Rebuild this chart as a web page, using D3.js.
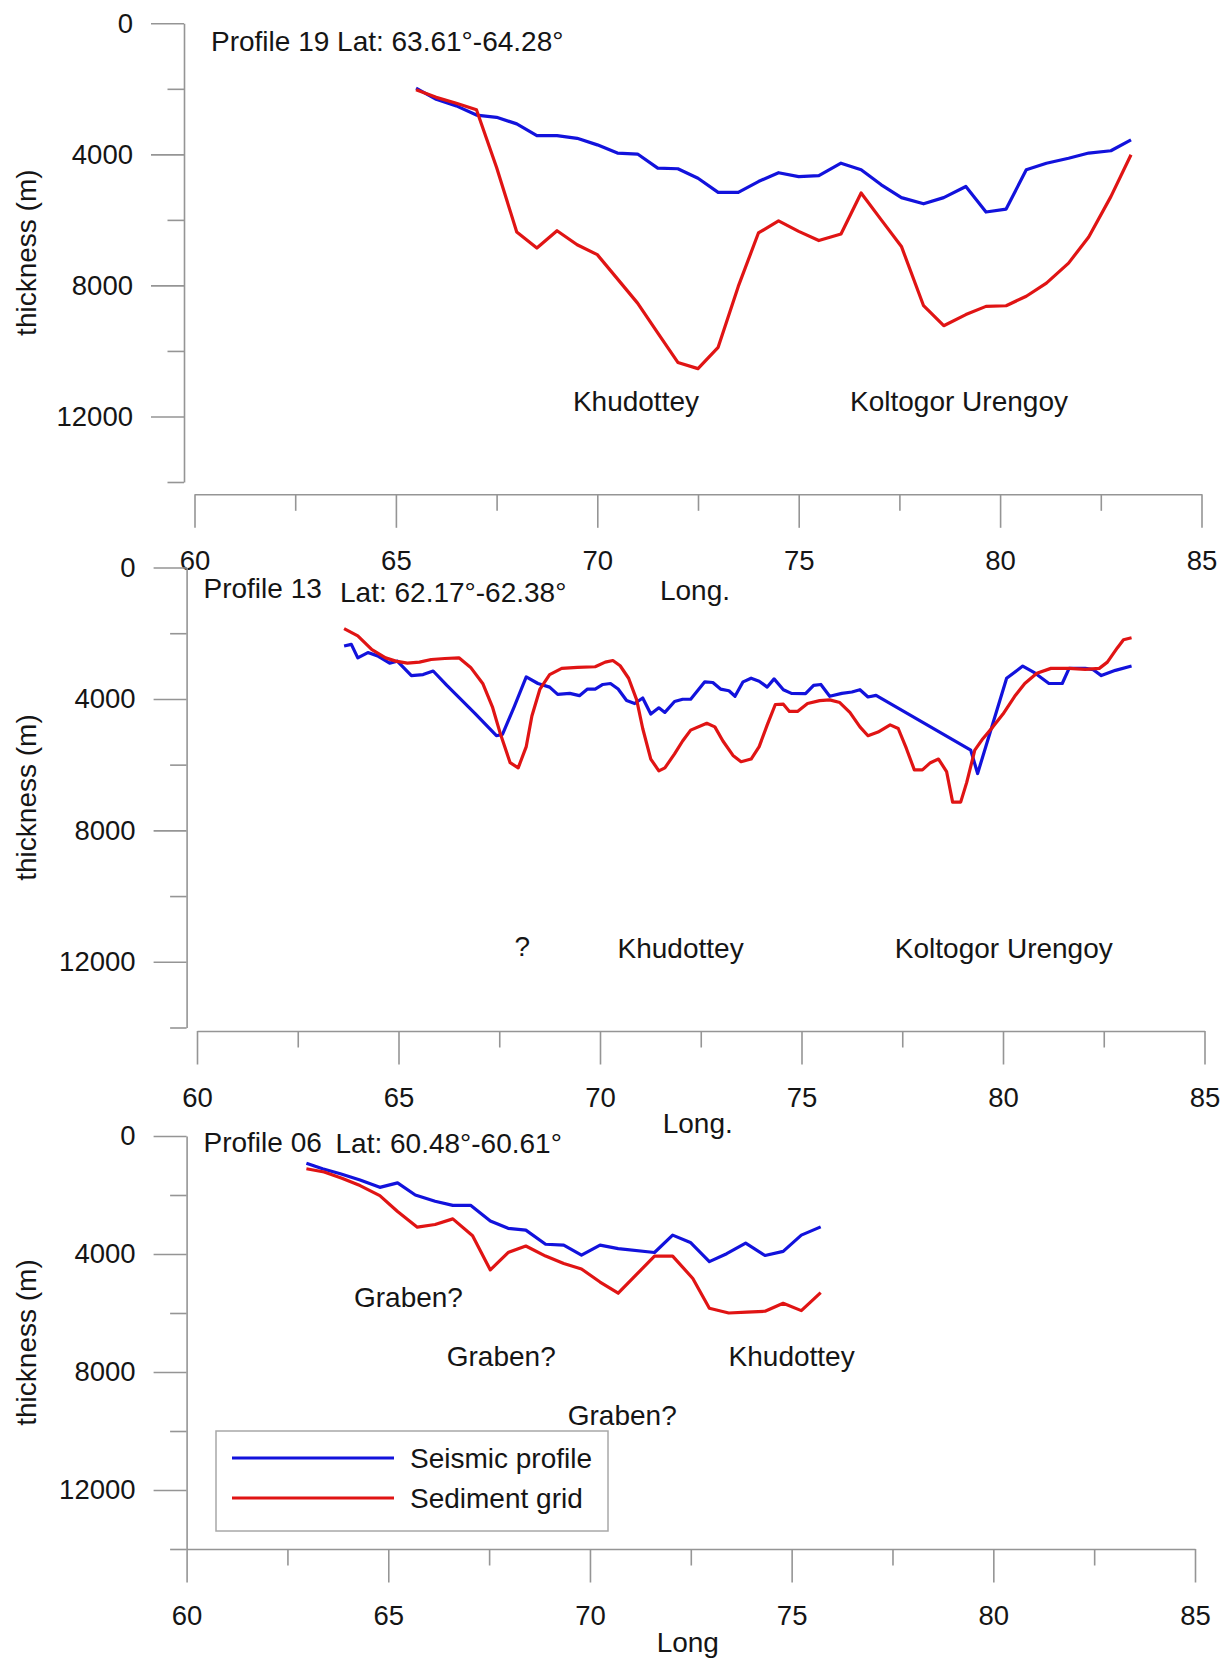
<!DOCTYPE html>
<html>
<head>
<meta charset="utf-8">
<script src="https://cdnjs.cloudflare.com/ajax/libs/d3/7.8.5/d3.min.js"></script>
<style>
  body { margin: 0; background: #fff; }
  svg text { font-family: "Liberation Sans", Arial, sans-serif; fill: #151515; }
</style>
</head>
<body>
<div id="chart"></div>
<script>
// Profile 19 (top)
var p19Lon = [65.5, 66.0, 66.5, 67.0, 67.5, 68.0, 68.5, 69.0, 69.5, 70.0, 70.5, 71.0, 71.5, 72.0, 72.5, 73.0, 73.5, 74.0,
  74.5, 75.0, 75.5, 76.05, 76.55, 77.05, 77.55, 78.1, 78.6, 79.15, 79.65, 80.15, 80.65, 81.15, 81.7, 82.2, 82.75, 83.25];
var p19Seismic = [1980, 2320, 2520, 2800, 2870, 3070, 3430, 3430, 3510, 3710, 3960, 3990, 4420, 4440, 4730, 5160, 5160, 4830,
  4560, 4680, 4650, 4270, 4470, 4930, 5320, 5510, 5320, 4980, 5760, 5670, 4470, 4270, 4120, 3960, 3890, 3560];
var p19Sediment = [2030, 2260, 2440, 2640, 4400, 6370, 6860, 6330, 6760, 7060, 7800, 8540, 9450, 10350, 10540, 9890, 8030, 6400,
  6030, 6350, 6630, 6430, 5180, 6000, 6810, 8620, 9230, 8890, 8640, 8620, 8330, 7930, 7320, 6520, 5290, 4010];

// Profile 13 (middle)
var p13SeismicLon = [63.65, 63.83, 63.99, 64.24, 64.48, 64.78, 64.97, 65.32, 65.61, 65.86, 66.2, 66.89, 67.43, 67.58, 67.87,
  68.17, 68.46, 68.75, 68.95, 69.25, 69.49, 69.69, 69.88, 70.07, 70.26, 70.45, 70.66, 70.86, 71.06, 71.26, 71.46, 71.61,
  71.85, 72.05, 72.25, 72.6, 72.8, 72.99, 73.2, 73.35, 73.55, 73.75, 73.95, 74.15, 74.32, 74.55, 74.75, 75.1, 75.3, 75.48,
  75.7, 76.0, 76.25, 76.45, 76.65, 76.85, 79.2, 79.37, 80.09, 80.49, 80.79, 81.14, 81.47, 81.64, 82.04, 82.24, 82.44, 82.79, 83.19];
var p13Seismic = [2390, 2340, 2750, 2590, 2690, 2910, 2850, 3290, 3260, 3150, 3590, 4430, 5120, 5080, 4240,
  3330, 3530, 3640, 3860, 3830, 3900, 3700, 3700, 3560, 3530, 3700, 4050, 4140, 3970, 4460, 4270, 4410,
  4080, 4010, 4010, 3480, 3500, 3700, 3750, 3920, 3480, 3370, 3460, 3640, 3390, 3720, 3830, 3840, 3590, 3560,
  3920, 3830, 3790, 3720, 3940, 3890, 5560, 6270, 3370, 3000, 3210, 3530, 3530, 3070, 3070, 3110, 3290, 3130, 3000];
var p13SedimentLon = [63.65, 63.99, 64.34, 64.68, 64.93, 65.22, 65.52, 65.81, 66.15, 66.5, 66.79, 67.09, 67.33, 67.53, 67.77,
  67.97, 68.17, 68.31, 68.51, 68.75, 69.05, 69.44, 69.88, 70.13, 70.32, 70.5, 70.71, 70.91, 71.06, 71.26, 71.46, 71.61,
  71.85, 72.05, 72.25, 72.65, 72.85, 73.05, 73.3, 73.5, 73.75, 73.95, 74.15, 74.35, 74.55, 74.7, 74.9, 75.15, 75.45, 75.7,
  75.95, 76.2, 76.45, 76.65, 76.9, 77.2, 77.4, 77.6, 77.8, 78.0, 78.2, 78.4, 78.6, 78.75, 78.95, 79.1, 79.3, 79.5, 79.75,
  80.0, 80.29, 80.54, 80.84, 81.19, 81.64, 82.04, 82.39, 82.59, 82.84, 82.99, 83.19];
var p13Sediment = [1860, 2080, 2500, 2750, 2850, 2910, 2880, 2800, 2770, 2750, 3040, 3530, 4240, 5070, 5940,
  6100, 5450, 4520, 3700, 3260, 3070, 3040, 3020, 2880, 2830, 2990, 3370, 4030, 4900, 5830, 6190, 6100,
  5670, 5280, 4950, 4740, 4850, 5280, 5720, 5910, 5830, 5450, 4790, 4170, 4160, 4380, 4380, 4140, 4050, 4030,
  4110, 4410, 4850, 5120, 5010, 4790, 4900, 5500, 6160, 6160, 5940, 5830, 6210, 7140, 7140, 6540, 5560, 5210, 4850,
  4460, 3920, 3530, 3220, 3070, 3070, 3100, 3070, 2880, 2440, 2200, 2140];

// Profile 06 (bottom)
var p06SeismicLon = [62.97, 63.37, 63.81, 64.3, 64.79, 65.23, 65.67, 66.16, 66.6, 67.04, 67.53, 67.97, 68.41, 68.9,
  69.35, 69.79, 70.25, 70.7, 71.6, 72.05, 72.49, 72.96, 73.39, 73.86, 74.34, 74.79, 75.24, 75.72];
var p06Seismic = [920, 1110, 1280, 1490, 1740, 1590, 2000, 2210, 2350, 2350, 2880, 3130, 3190, 3670,
  3700, 4040, 3700, 3820, 3950, 3360, 3610, 4260, 3990, 3630, 4050, 3910, 3360, 3080];
var p06SedimentLon = [62.97, 63.41, 63.85, 64.3, 64.79, 65.23, 65.72, 66.16, 66.6, 67.09, 67.53, 67.97, 68.41, 68.9,
  69.35, 69.79, 70.25, 70.7, 71.15, 71.6, 72.05, 72.55, 72.96, 73.44, 73.89, 74.34, 74.79, 75.24, 75.72];
var p06Sediment = [1110, 1220, 1430, 1680, 2020, 2560, 3090, 3000, 2810, 3380, 4540, 3950, 3730, 4070,
  4320, 4510, 4950, 5330, 4700, 4070, 4070, 4830, 5840, 6000, 5970, 5940, 5670, 5920, 5310];

// axes ticks
var depthMajor = [0, 4000, 8000, 12000],
    depthMinor = [2000, 6000, 10000, 14000],
    lonMajor = [60, 65, 70, 75, 80, 85],
    lonMinor = [62.5, 67.5, 72.5, 77.5, 82.5];

// annotations: [text, lon, depth]
var p19Notes = [["Khudottey", 70.96, 11550], ["Koltogor Urengoy", 78.98, 11550]];
var p13Notes = [["?", 68.07, 11560], ["Khudottey", 72.0, 11620], ["Koltogor Urengoy", 80.02, 11620]];
var p06Notes = [["Graben?", 65.5, 5500], ["Graben?", 67.8, 7480], ["Graben?", 70.8, 9490], ["Khudottey", 75.0, 7480]];

var seriesNames = ["Seismic profile", "Sediment grid"];
var colors = {seismic: "#1212dc", sediment: "#e01414"};

var width = 1231, height = 1660;
var svg = d3.select("#chart").append("svg")
    .attr("width", width)
    .attr("height", height);

var utils = {
    translation: function (x, y) { return 'translate(' + x + ',' + y + ')'; }
};

var panels = [
  {yAxisX: 184, top: 23.3, bottom: 482, xAxisY: 494.3, left: 194.5, right: 1201.5, xTitle: "Long.", xTitleY: 600,
   titles: [["Profile 19 Lat: 63.61°-64.28°", 211, 51]],
   seismic: [p19Lon, p19Seismic], sediment: [p19Lon, p19Sediment], notes: p19Notes},
  {yAxisX: 186.6, top: 567.5, bottom: 1027.5, xAxisY: 1031, left: 197, right: 1204.5, xTitle: "Long.", xTitleY: 1133,
   titles: [["Profile 13", 203.5, 598], ["Lat: 62.17°-62.38°", 340, 601.5]],
   seismic: [p13SeismicLon, p13Seismic], sediment: [p13SedimentLon, p13Sediment], notes: p13Notes},
  {yAxisX: 186.6, top: 1136, bottom: 1549, xAxisY: 1549, left: 186.6, right: 1195, xTitle: "Long", xTitleY: 1652,
   titles: [["Profile 06", 203.5, 1152], ["Lat: 60.48°-60.61°", 335.5, 1152.5]],
   seismic: [p06SeismicLon, p06Seismic], sediment: [p06SedimentLon, p06Sediment], notes: p06Notes, legend: true}
];

function styleAxis(g) {
    g.attr('font-size', 27.5)
     .attr('font-family', '"Liberation Sans", Arial, sans-serif')
     .attr('color', '#959595');
    g.selectAll('path, line').attr('stroke-width', 1.6);
}

function drawPanel(p) {
    var x = d3.scaleLinear().domain([60, 85]).range([p.left, p.right]);
    var y = d3.scaleLinear().domain([0, 14000]).range([p.top, p.bottom]);
    var g = svg.append('g');

    // y axis
    var ya = g.append('g').attr('transform', utils.translation(p.yAxisX, 0));
    ya.call(d3.axisLeft(y).tickValues(depthMajor).tickSize(33).tickSizeOuter(0).tickPadding(18)
        .tickFormat(d3.format('d')));
    ya.append('g').call(d3.axisLeft(y).tickValues(depthMinor).tickSize(16.5).tickFormat(''))
        .select('.domain').remove();
    styleAxis(ya);

    // x axis
    var xa = g.append('g').attr('transform', utils.translation(0, p.xAxisY));
    xa.call(d3.axisBottom(x).tickValues(lonMajor).tickSize(33.5).tickSizeOuter(0).tickPadding(22.5)
        .tickFormat(d3.format('d')));
    xa.append('g').call(d3.axisBottom(x).tickValues(lonMinor).tickSize(16.5).tickFormat(''))
        .select('.domain').remove();
    styleAxis(xa);

    // axis titles
    g.append('text')
        .attr('text-anchor', 'middle')
        .attr('font-size', 28)
        .attr('transform', utils.translation(36, (p.top + p.bottom) / 2) + ' rotate(-90)')
        .text('thickness (m)');
    g.append('text')
        .attr('text-anchor', 'middle')
        .attr('font-size', 28)
        .attr('x', (p.left + p.right) / 2 - 3)
        .attr('y', p.xTitleY)
        .text(p.xTitle);

    p.titles.forEach(function (t) {
        g.append('text').attr('x', t[1]).attr('y', t[2]).attr('font-size', 28).text(t[0]);
    });

    var line = d3.line()
        .x(function (d) { return x(d[0]); })
        .y(function (d) { return y(d[1]); });

    g.append('path')
        .datum(d3.zip(p.seismic[0], p.seismic[1]))
        .attr('d', line)
        .attr('fill', 'none')
        .attr('stroke', colors.seismic)
        .attr('stroke-width', 3.2)
        .attr('stroke-linejoin', 'round');
    g.append('path')
        .datum(d3.zip(p.sediment[0], p.sediment[1]))
        .attr('d', line)
        .attr('fill', 'none')
        .attr('stroke', colors.sediment)
        .attr('stroke-width', 3.2)
        .attr('stroke-linejoin', 'round');

    g.selectAll('.note')
        .data(p.notes)
        .enter()
        .append('text')
        .attr('class', 'note')
        .attr('text-anchor', 'middle')
        .attr('font-size', 28)
        .attr('x', function (d) { return x(d[1]); })
        .attr('y', function (d) { return y(d[2]) + 9; })
        .text(function (d) { return d[0]; });

    if (p.legend) {
        var lg = g.append('g');
        lg.append('rect')
            .attr('x', 216).attr('y', 1431)
            .attr('width', 392).attr('height', 100)
            .attr('fill', '#fff')
            .attr('stroke', '#a8a8a8')
            .attr('stroke-width', 1.5);
        [colors.seismic, colors.sediment].forEach(function (c, i) {
            var ly = 1458 + i * 40;
            lg.append('line')
                .attr('x1', 232).attr('x2', 394)
                .attr('y1', ly).attr('y2', ly)
                .attr('stroke', c).attr('stroke-width', 3);
            lg.append('text')
                .attr('x', 410).attr('y', ly + 9.5)
                .attr('font-size', 28)
                .text(seriesNames[i]);
        });
    }
}

panels.forEach(drawPanel);
</script>
</body>
</html>
